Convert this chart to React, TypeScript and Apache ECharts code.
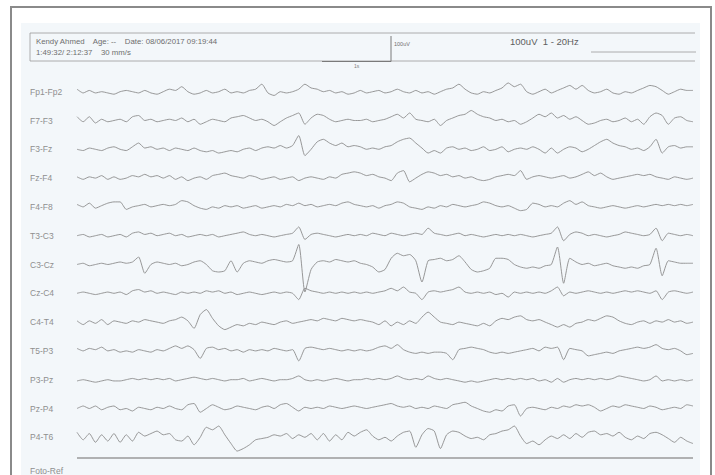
import React, { useEffect, useRef } from "react";
import * as echarts from "echarts";

// Channel names (montage), top to bottom
const CHANNELS = [
  "Fp1-Fp2", "F7-F3", "F3-Fz", "Fz-F4", "F4-F8", "T3-C3", "C3-Cz",
  "Cz-C4", "C4-T4", "T5-P3", "P3-Pz", "Pz-P4", "P4-T6",
];

// Signal samples (101 per channel, up = positive)
const FP1_FP2 = [2,-1,1,-1,0,-1,-2,0,1,0, -1,1,-1,-2,0,2,1,4,0,-2, -1,1,-1,0,2,-1,0,-1,1,2, 6,-1,-3,0,-1,0,2,6,3,2, 0,1,-1,0,-2,-1,1,-1,0,1, -1,0,2,0,-1,1,-1,0,-2,0, 2,3,6,2,-1,-2,0,-1,1,3, 7,4,6,0,-2,0,2,-1,1,3, 5,2,5,1,-1,0,2,-1,-2,0, -1,1,3,5,4,1,-2,0,2,1, 1];
const F7_F3 = [3,-1,3,-2,1,-1,0,1,-1,3, 4,0,1,-1,0,1,0,2,-1,1, -3,-1,1,0,-1,2,3,4,2,0, 1,-1,-4,-1,2,4,6,-3,2,5, 4,1,-1,0,1,0,0,1,-1,0, 1,3,5,2,6,1,0,-1,1,-4, 0,2,4,5,8,5,3,2,0,1, -1,0,-3,-1,2,5,3,6,2,4, 1,3,0,-3,-2,0,1,-1,0,2, -1,1,-3,3,6,4,-3,2,3,0, -1];
const F3_FZ = [0,-1,1,0,-1,1,2,0,-1,2, 5,1,2,0,1,-1,1,0,-1,1, -1,-2,-1,-3,-2,-1,-2,0,1,-1, 1,2,1,3,1,3,11,-5,0,6, 8,5,3,5,2,3,2,0,1,0, 2,3,6,8,9,5,1,-3,-1,-3, 1,2,0,1,-1,0,2,-1,0,2, -2,0,1,0,2,0,-3,1,-3,0, 2,1,-2,0,3,6,8,5,3,2, 0,1,-1,2,8,-3,2,3,1,2, 2];
const FZ_F4 = [1,-1,1,0,2,-1,1,-1,0,2, 1,3,1,2,0,2,-1,1,-2,0, 1,-1,2,3,4,2,1,0,2,1, -1,0,1,-1,0,1,-2,0,1,0, -1,1,0,3,4,5,4,2,3,1, 0,-2,4,6,-3,0,3,5,4,2, 3,1,2,0,1,-1,-2,-1,1,2, 3,2,6,-1,1,2,1,0,1,2, 0,1,3,5,2,4,1,-1,0,1, 2,3,2,3,1,0,-1,1,0,-1, 0];
const F4_F8 = [2,0,3,-1,1,3,4,4,-2,0, 1,2,0,1,2,1,2,5,4,1, -1,-2,0,-1,1,0,1,-1,0,1, -1,0,1,0,2,1,3,1,2,0, 1,2,1,3,4,2,1,0,1,-1, 1,2,4,3,0,-1,-2,0,-1,1, 0,2,1,0,1,2,4,3,1,0, 1,-1,-3,-2,3,2,0,1,0,3, 5,2,4,1,0,-1,0,1,0,-1, 0,1,0,1,2,1,2,1,2,1, 2];
const T3_C3 = [0,1,-1,0,1,-1,0,1,-1,2, 3,1,2,0,1,2,0,1,-1,0, 1,0,1,-1,0,1,2,3,1,0, 1,0,-1,0,1,2,7,-3,1,2, 1,0,-1,0,1,0,1,0,2,1, 0,2,1,0,1,2,1,6,2,1, 0,1,2,0,1,0,-1,0,1,0, 1,0,1,0,-1,0,1,2,7,-4, 1,3,2,0,1,0,-1,0,1,3, 2,1,0,1,6,-4,2,1,0,1, 0];
const C3_CZ = [0,1,-1,0,1,0,1,2,1,2, 6,-7,0,2,1,0,1,-1,0,2, 3,0,-5,-6,-5,3,-6,1,3,2, 1,3,4,3,2,3,16,-22,-4,2, 3,2,4,3,2,3,1,0,-2,-6, -4,5,9,7,8,3,-14,3,4,5, 3,4,7,2,-4,-6,-5,-3,5,5, 4,0,-2,-3,-2,-3,-1,0,14,-15, 5,2,0,1,-1,0,1,-1,-2,-3, -2,-3,-1,0,13,-9,3,2,1,1, 1];
const CZ_C4 = [0,1,0,-1,0,1,0,1,-1,2, 3,1,2,0,1,0,-1,1,0,1, 0,2,1,2,0,1,-1,0,1,0, -1,0,1,0,1,0,-5,4,2,1, 0,1,0,1,0,1,0,1,0,1, 2,4,2,5,1,0,-5,1,2,1, 2,3,5,1,0,1,0,1,-1,0, -3,1,0,1,0,1,0,2,5,-2, 1,0,1,2,1,0,1,0,1,2, 1,2,1,0,2,-5,1,2,1,0, 1];
const C4_T4 = [1,-2,1,-1,2,-2,1,0,-1,1, 0,2,1,0,-1,1,2,4,1,-5, 6,10,3,-3,-6,-4,-2,-3,-1,-2, 0,-1,-2,0,1,-1,0,1,2,1, 3,2,1,3,2,1,2,1,0,-2, 1,-3,0,-2,1,-1,4,8,4,0, -1,-2,0,-1,-2,-3,-1,-3,1,3, 2,4,5,2,1,2,0,-2,-4,-2, -4,-1,0,2,1,3,5,4,1,-1, -2,0,1,-1,1,0,2,0,1,-1, 0];
const T5_P3 = [2,0,2,1,3,0,1,-1,0,-1, 1,0,-1,1,0,2,4,2,4,1, -6,2,3,1,2,0,1,-1,1,0, 1,0,2,1,0,1,-8,2,3,2, 1,2,1,0,1,0,1,0,1,3, 4,2,5,1,-1,-2,-1,-2,-1,-1, -2,-7,1,2,3,2,1,-1,-2,-1, -2,-1,0,1,2,0,3,2,3,-7, 2,1,0,-4,-3,-2,-1,-2,0,1, 2,3,2,3,5,2,1,2,0,-3, -2];
const P3_PZ = [-1,0,-1,-2,-1,0,-1,-1,0,1, 0,1,0,1,0,1,-1,0,1,2, 1,0,1,0,-1,0,0,1,-1,0, 1,0,-1,0,0,1,3,0,-1,0, -1,0,1,0,-1,0,0,1,0,1, 0,1,3,1,0,1,0,3,1,0, 1,0,-1,-2,-1,-2,-1,0,1,0, 1,0,1,0,1,-1,0,-2,1,-2, 0,1,0,1,0,1,0,1,3,2, 1,0,-1,0,3,-1,0,-1,0,-1, 0];
const PZ_P4 = [0,2,0,2,-1,1,2,-1,0,-2, 1,0,-1,1,0,2,0,-1,3,4, -3,0,3,1,-1,0,2,1,0,-1, 1,2,0,3,4,1,-2,1,0,1, 0,2,1,0,1,2,1,0,1,2, 3,4,2,1,2,0,1,0,2,1, 0,3,4,5,2,0,-2,-3,-1,-2, 2,3,-6,0,1,0,-1,1,0,2, 1,3,2,3,1,-2,0,2,1,3, 2,1,0,2,1,-1,0,1,0,3, 2];
const P4_T6 = [4,-2,3,-4,2,-3,3,-4,2,-3, 4,1,3,5,2,3,-2,-3,1,-6, 0,8,6,9,2,-5,-11,-9,-6,-2, -1,0,2,1,3,-1,2,0,3,-2, 3,-3,2,-2,4,1,4,6,1,-2, 0,-3,1,4,5,-8,2,7,5,-9, 2,5,4,1,-1,0,-2,2,3,5, 6,9,1,-5,-3,-6,-2,1,-1,2, -1,3,0,4,5,2,3,1,4,0, -2,1,-1,3,4,2,-1,-4,0,-3, -5];

const TRACES = [FP1_FP2, F7_F3, F3_FZ, FZ_F4, F4_F8, T3_C3, C3_CZ, CZ_C4, C4_T4, T5_P3, P3_PZ, PZ_P4, P4_T6];

// Photic reference channel: flat
const FOTO_LABEL = "Foto-Ref";
const FOTO_REF = [0, 0];
const FOTO_X = [0, 100];

// Header texts
const HEADER_LINE1 = "Kendy Ahmed    Age: --    Date: 08/06/2017 09:19:44";
const HEADER_LINE2 = "1:49:32/ 2:12:37    30 mm/s";
const CAL_LABEL = "100uV";
const TIME_LABEL = "1s";
const SETTINGS = "100uV  1 - 20Hz";

export default function App() {
  const ref = useRef<HTMLDivElement>(null);

  useEffect(() => {
    const chart = echarts.init(ref.current!, null, { renderer: "svg" });
    const ROW0 = 91.7;
    const STEP = 28.8;
    const HALF = 30;
    const GAIN_RANGE = 24;
    const rows = CHANNELS.map((_, i) => ROW0 + STEP * i);
    const fotoY = 471;
    const allRows = [...rows, fotoY];
    const FONT = '"Liberation Sans", Arial, sans-serif';
    const traceColor = "#8c8c8c";

    const grid = allRows.map((y) => ({ left: 77, right: 22, top: y - HALF, height: HALF * 2 }));
    const xAxis = allRows.map((_, i) => ({ type: "value", gridIndex: i, min: 0, max: 100, show: false }));
    const yAxis = allRows.map((_, i) => ({ type: "value", gridIndex: i, min: -GAIN_RANGE, max: GAIN_RANGE, show: false }));

    const series: any[] = TRACES.map((d, i) => ({
      type: "line",
      name: CHANNELS[i],
      xAxisIndex: i,
      yAxisIndex: i,
      data: d.map((v, k) => [k, v]),
      symbol: "none",
      smooth: 0.2,
      silent: true,
      lineStyle: { color: traceColor, width: 0.9 },
    }));
    series.push({
      type: "line",
      name: FOTO_LABEL,
      xAxisIndex: rows.length,
      yAxisIndex: rows.length,
      data: FOTO_REF.map((v, k) => [FOTO_X[k], v]),
      symbol: "none",
      silent: true,
      lineStyle: { color: "#9a9a9a", width: 1.4 },
    });

    const labels = [...CHANNELS, FOTO_LABEL].map((name, i) => ({
      type: "text",
      x: 30,
      y: allRows[i],
      z: 5,
      style: { text: name, fill: "#8f8f8f", font: `8.5px ${FONT}`, verticalAlign: "middle" },
    }));

    const hdrStroke = "#9a9a9a";
    const graphic: any[] = [
      { type: "rect", z: -10, shape: { x: 11, y: 7, width: 700, height: 480 }, style: { fill: "none", stroke: "#8a8a8a", lineWidth: 2 } },
      { type: "rect", z: -9, shape: { x: 21, y: 23, width: 679, height: 460 }, style: { fill: "#f3f7fa" } },
      { type: "line", z: 1, shape: { x1: 30, y1: 33, x2: 695, y2: 33 }, style: { stroke: hdrStroke, lineWidth: 0.8 } },
      { type: "line", z: 1, shape: { x1: 30, y1: 33, x2: 30, y2: 61 }, style: { stroke: hdrStroke, lineWidth: 0.8 } },
      { type: "line", z: 1, shape: { x1: 30, y1: 61, x2: 695, y2: 61 }, style: { stroke: hdrStroke, lineWidth: 0.8 } },
      { type: "line", z: 1, shape: { x1: 322, y1: 61.5, x2: 391, y2: 61.5 }, style: { stroke: "#7a7a7a", lineWidth: 1 } },
      { type: "line", z: 1, shape: { x1: 391, y1: 36, x2: 391, y2: 61.5 }, style: { stroke: "#7a7a7a", lineWidth: 1 } },
      { type: "line", z: 1, shape: { x1: 591, y1: 52, x2: 696, y2: 52 }, style: { stroke: hdrStroke, lineWidth: 0.8 } },
      { type: "text", z: 5, x: 36, y: 41, style: { text: HEADER_LINE1, fill: "#6e6e6e", font: `7.8px ${FONT}`, verticalAlign: "middle" } },
      { type: "text", z: 5, x: 36, y: 52, style: { text: HEADER_LINE2, fill: "#6e6e6e", font: `7.8px ${FONT}`, verticalAlign: "middle" } },
      { type: "text", z: 5, x: 394, y: 44, style: { text: CAL_LABEL, fill: "#707070", font: `5.5px ${FONT}`, verticalAlign: "middle" } },
      { type: "text", z: 5, x: 354, y: 65.5, style: { text: TIME_LABEL, fill: "#808080", font: `5px ${FONT}`, verticalAlign: "middle" } },
      { type: "text", z: 5, x: 510, y: 41, style: { text: SETTINGS, fill: "#5e5e5e", font: `9.5px ${FONT}`, verticalAlign: "middle" } },
      ...labels,
    ];

    chart.setOption({
      animation: false,
      backgroundColor: "#ffffff",
      grid,
      xAxis,
      yAxis,
      series,
      graphic,
    });

    return () => chart.dispose();
  }, []);

  return <div ref={ref} style={{ position: "absolute", left: 0, top: 0, width: 715, height: 475 }} />;
}
